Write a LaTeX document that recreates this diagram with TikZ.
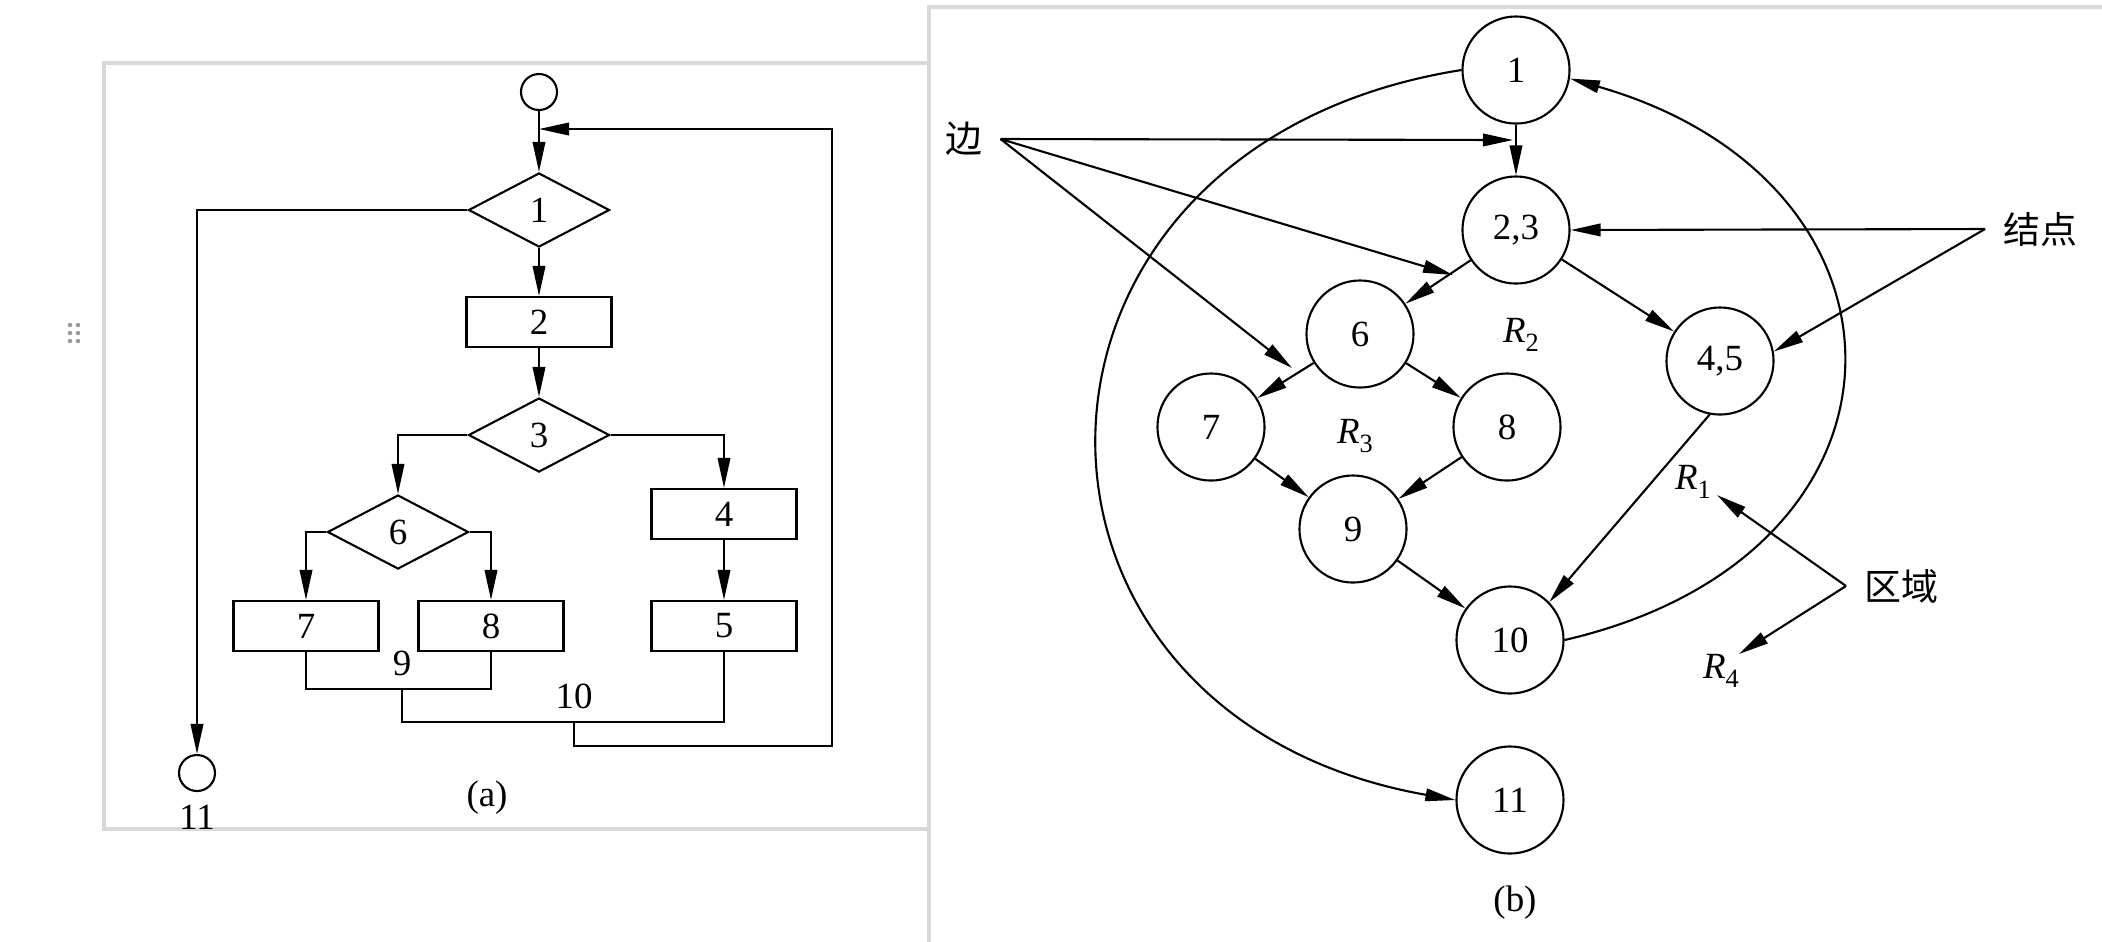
\documentclass[tikz,border=0pt]{standalone}
\usepackage{fontspec}
\setmainfont{Liberation Serif}
\newfontfamily\cjk{Noto Sans CJK SC}
\usetikzlibrary{arrows.meta,positioning,shapes.geometric}
\tikzset{
  >=Stealth,
  every picture/.append style={line width=0.6pt},
  every node/.append style={font=\fontsize{10.5}{12}\selectfont},
}
\newcommand{\Rsub}[1]{\textit{R}\raisebox{-0.55ex}{\fontsize{7.5}{8}\selectfont #1}}

\begin{document}
\begin{tikzpicture}[x=0.01cm, y=0.01cm,
  card/.style={draw=black!15, fill=white, line width=1.2pt},
  startend/.style={circle, draw, inner sep=0pt, minimum size=0.36cm},
  decision/.style={diamond, draw, inner sep=0pt, minimum width=1.41cm, minimum height=0.74cm},
  process/.style={rectangle, draw, inner sep=0pt, minimum width=1.45cm, minimum height=0.5cm},
  vertex/.style={circle, draw, inner sep=0pt, minimum size=1.07cm},
  arrow/.style={-{Triangle[length=3mm,width=1.25mm]}},
  tag/.style={inner sep=0.17cm, font=\cjk\fontsize{10.5}{12}\selectfont},
  region/.style={inner sep=1pt}
]
\useasboundingbox (0,0) rectangle (2102,-941);

% Cards behind both panels
\draw[card] (104,-63) rectangle (960,-829);
\draw[card] (929,-7) rectangle (2130,-970);
\foreach \gx in {70,78}
  \foreach \gy in {325,333,341}
    \fill[black!40] (\gx,-\gy) circle (0.022cm);

% Panel (a): flow chart
\node[startend] (s0) at (539,-92) {};
\node[decision] (d1) at (539,-210) {1};
\node[process]  (b2) at (539,-322) {2};
\node[decision] (d3) at (539,-435) {3};
\node[decision] (d6) at (398,-532) {6};
\node[process]  (b4) at (724,-514) {4};
\node[process]  (b7) at (306,-626) {7};
\node[process]  (b8) at (491,-626) {8};
\node[process]  (b5) at (724,-626) {5};
\node[startend] (e11) at (197,-773) {};
\node[below=0pt of e11] (l11) {11};

\coordinate (merge) at (539,-129);
\coordinate (j9) at (402,-689);
\coordinate (j10) at (574,-722);
\coordinate (loop) at (832,-746);
\node[above=0pt of j9] (l9) {9};
\node[above=0pt of j10] (l10) {10};
\node (capa) at (487,-798) {(a)};

\draw[arrow] (s0.south) -- (d1.north);
\draw[arrow] (d1.west) -| (e11.north);
\draw[arrow] (d1.south) -- (b2.north);
\draw[arrow] (b2.south) -- (d3.north);
\draw[arrow] (d3.west) -| (d6.north);
\draw[arrow] (d3.east) -| (b4.north);
\draw[arrow] (d6.west) -| (b7.north);
\draw[arrow] (d6.east) -| (b8.north);
\draw[arrow] (b4.south) -- (b5.north);
\draw (b7.south) |- (j9) -| (b8.south);
\draw (j9) |- (j10) -| (b5.south);
\draw[arrow] (j10) |- (loop) |- (merge);

% Panel (b): flow graph
\node[vertex] (n1)  at (1516,-70)  {1};
\node[vertex] (n23) at (1516,-230) {2,3};
\node[vertex] (n6)  at (1360,-334) {6};
\node[vertex] (n7)  at (1211,-427) {7};
\node[vertex] (n8)  at (1507,-427) {8};
\node[vertex] (n9)  at (1353,-529) {9};
\node[vertex] (n45) at (1720,-361) {4,5};
\node[vertex] (n10) at (1510,-640) {10};
\node[vertex] (n11) at (1510,-800) {11};
\node (capb) at (1515,-903) {(b)};

\node[region] (r2) at (1521,-335) {\Rsub{2}};
\node[region] (r3) at (1355,-436) {\Rsub{3}};
\node[region] (r1) at (1693,-482) {\Rsub{1}};
\node[region] (r4) at (1721,-671) {\Rsub{4}};

\draw[arrow] (n1) -- (n23);
\draw[arrow] (n23) -- (n6);
\draw[arrow] (n23) -- (n45);
\draw[arrow] (n6) -- (n7);
\draw[arrow] (n6) -- (n8);
\draw[arrow] (n7) -- (n9);
\draw[arrow] (n8) -- (n9);
\draw[arrow] (n9) -- (n10);
\draw[arrow] (n45.259) -- (n10.44);
\draw[arrow] (n1.west) to[out=189, in=170, looseness=1.7] (n11.west);
\draw[arrow] (n10.east) to[out=13, in=-16, looseness=1.72] (n1.-9);

% Annotations
\node[tag] (edge) at (964,-139) {边};
\node[tag] (vert) at (2040,-229) {结点};
\node[tag] (area) at (1901,-586) {区域};
\coordinate (e1) at (1513,-140);
\coordinate (e2) at (1453,-275);
\coordinate (e3) at (1292,-368);
\coordinate (r1tip) at (1717,-495);
\coordinate (r4tip) at (1739,-654);
\foreach \t in {e1,e2,e3}
  \draw[arrow] (edge.east) -- (\t);
\draw[arrow] (vert.west) -- (n23.east);
\draw[arrow] (vert.west) -- (n45.10);
\draw[arrow] (area.west) -- (r1tip);
\draw[arrow] (area.west) -- (r4tip);

\end{tikzpicture}
\end{document}
